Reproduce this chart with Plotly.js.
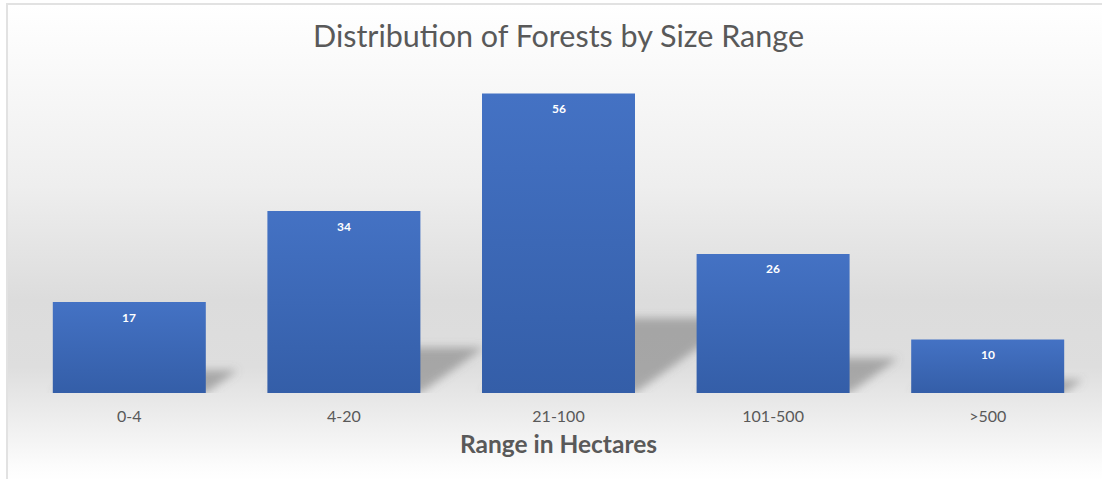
<!DOCTYPE html>
<html>
<head>
<meta charset="utf-8">
<script src="https://cdn.plot.ly/plotly-3.0.1.min.js"></script>
<style>
  html, body { margin: 0; padding: 0; width: 1102px; height: 479px; overflow: hidden; background: #ffffff; }
  #frame {
    position: absolute; left: 6px; top: 3px; width: 1096px; height: 476px;
    border-left: 2px solid #e2e2e2; border-top: 2px solid #e2e2e2;
    background: linear-gradient(to bottom, #ffffff 0%, #fafafa 12%, #eeeeee 38%, #dcdcdc 62%, #dedede 76%, #ececec 86%, #fcfcfc 97%, #ffffff 100%);
  }
  #chart { position: absolute; left: 0; top: 0; width: 1102px; height: 479px; }
</style>
</head>
<body>
<div id="frame"></div>
<div id="chart"></div>
<script>
const categories = ["0-4", "4-20", "21-100", "101-500", ">500"];
const forestCounts = [17, 34, 56, 26, 10];
const chartTitle = "Distribution of Forests by Size Range";
const xAxisTitle = "Range in Hectares";

const idx = categories.map((c, i) => i);
const barWidth = 0.713;
const pxPerX = 214.5, pxPerY = 5.35;

// perspective shadows derived from each bar's value
const shapes = forestCounts.map((v, i) => {
  const x0 = i - barWidth / 2, x1 = i + barWidth / 2;
  const hPx = v * pxPerY;
  const dx = 0.35 * hPx / pxPerX;
  const top = v * 0.25;
  return {
    type: "path", xref: "x", yref: "y", layer: "below",
    path: `M ${x0} 0 L ${x1} 0 L ${x1 + dx} ${top} L ${x0 + dx} ${top} Z`,
    fillcolor: "rgba(110,110,110,0.5)", line: { width: 0 }
  };
});

const annotations = forestCounts.map((v, i) => ({
  x: i, y: v, xref: "x", yref: "y", text: "<b>" + v + "</b>", showarrow: false,
  yanchor: "middle", yshift: -15,
  font: { family: "Lato, 'Open Sans', sans-serif", size: 12, color: "#ffffff" }
}));

const data = [{
  type: "bar", x: idx, y: forestCounts, width: barWidth,
  marker: { color: "#4070c0", line: { width: 0 } },
  hoverinfo: "none"
}];

const layout = {
  width: 1102, height: 479,
  margin: { l: 22, r: 7, t: 72, b: 86 },
  paper_bgcolor: "rgba(0,0,0,0)", plot_bgcolor: "rgba(0,0,0,0)",
  showlegend: false,
  title: {
    text: chartTitle, x: 0.5, xref: "paper", xanchor: "center",
    y: 36, yref: "container", yanchor: "middle",
    font: { family: "Lato, 'Open Sans', sans-serif", size: 30.5, color: "#595959" }
  },
  xaxis: {
    range: [-0.5, 4.5], tickvals: idx, ticktext: categories,
    showgrid: false, zeroline: false, showline: false, ticks: "",
    ticklabelstandoff: 12,
    tickfont: { family: "Lato, 'Open Sans', sans-serif", size: 16, color: "#595959" },
    title: { text: "<b>" + xAxisTitle + "</b>", standoff: 11,
      font: { family: "Lato, 'Open Sans', sans-serif", size: 24.5, color: "#595959" } },
    fixedrange: true
  },
  yaxis: {
    range: [0, 60], visible: false, showgrid: false, zeroline: false, fixedrange: true
  },
  shapes: shapes,
  annotations: annotations
};

Plotly.newPlot("chart", data, layout, { displayModeBar: false, staticPlot: true }).then(gd => {
  const svg = gd.querySelector("svg.main-svg");
  let defs = svg.querySelector("defs");
  defs.insertAdjacentHTML("beforeend",
    '<linearGradient id="barGrad" x1="0" y1="0" x2="0" y2="1">' +
      '<stop offset="0" stop-color="#4472c4"/>' +
      '<stop offset="1" stop-color="#345ea8"/>' +
    '</linearGradient>' +
    '<filter id="shadowBlur" x="-50%" y="-50%" width="200%" height="200%">' +
      '<feGaussianBlur stdDeviation="4"/>' +
    '</filter>');
  gd.querySelectorAll(".trace.bars .point path").forEach(p => { p.style.fill = "url(#barGrad)"; });
  gd.querySelectorAll(".shapelayer path").forEach(p => { p.setAttribute("filter", "url(#shadowBlur)"); });
});
</script>
</body>
</html>
